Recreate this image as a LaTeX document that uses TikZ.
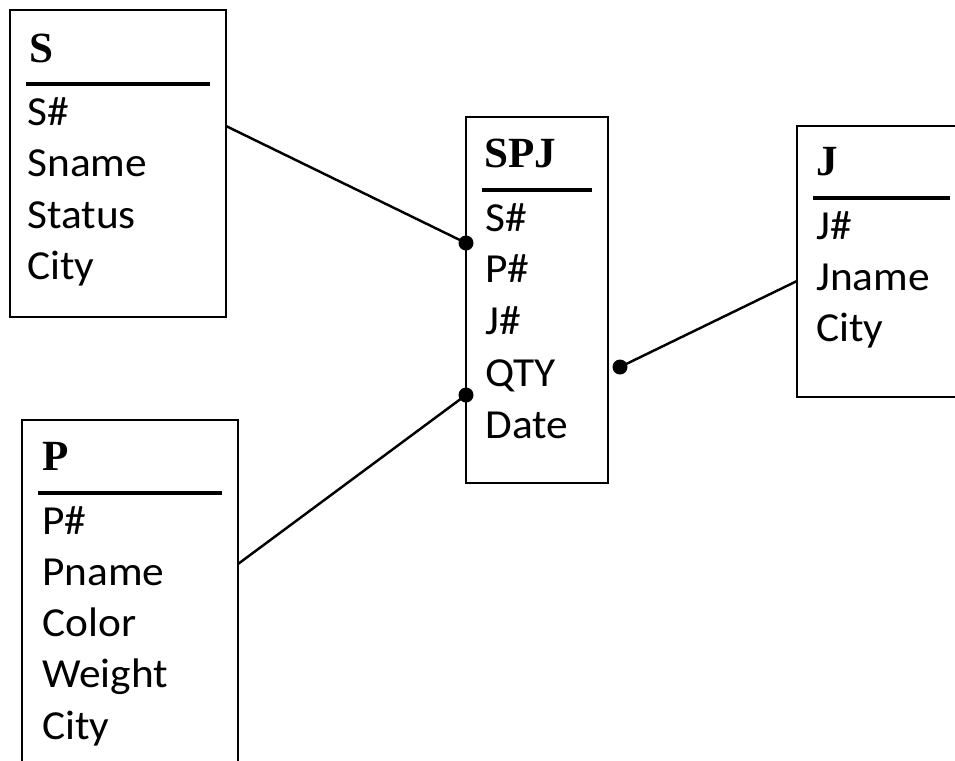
\documentclass[tikz,border=0pt]{standalone}
\usepackage{fontspec}
\setmainfont{Carlito}[FakeStretch=1.05]
\newfontfamily\titulofont{Liberation Serif}
\usepackage{tikz}
\usetikzlibrary{positioning}

\tikzset{
  tabla/.style={draw, line width=1.1pt, rectangle, inner sep=0pt, outer sep=0pt, anchor=north west},
  titulo/.style={anchor=base west, inner sep=0pt, font=\titulofont\bfseries\fontsize{24.5}{28}\selectfont},
  campo/.style={anchor=base west, inner sep=0pt, font=\fontsize{23.5}{26}\selectfont},
  regla/.style={line width=1.8pt},
  relacion/.style={line width=1.4pt},
  punto/.style={circle, fill=black, inner sep=0pt, minimum size=0.3cm}
}

\begin{document}
\begin{tikzpicture}
  \useasboundingbox (0,0) rectangle (19.1,-15.2);
  \clip (0,0) rectangle (19.1,-15.2);

  % Tablas
  \node[tabla, minimum width=4.32cm, minimum height=6.14cm] (s) at (0.2,-0.2) {};
  \node[tabla, minimum width=2.84cm, minimum height=7.32cm] (spj) at (9.32,-2.34) {};
  \node[tabla, minimum width=3.6cm, minimum height=5.42cm] (j) at (15.94,-2.52) {};
  \node[tabla, minimum width=4.32cm, minimum height=7.4cm] (p) at (0.44,-8.4) {};

  % Titulos
  \node[titulo] (s-tit) at (0.58,-1.24) {S};
  \node[titulo] (spj-tit) at (9.68,-3.34) {SPJ};
  \node[titulo] (j-tit) at (16.32,-3.5) {J};
  \node[titulo] (p-tit) at (0.84,-9.4) {P};

  \draw[regla] (0.52,-1.68) -- (4.2,-1.68);
  \draw[regla] (9.64,-3.8) -- (11.84,-3.8);
  \draw[regla] (16.26,-3.96) -- (19.0,-3.96);
  \draw[regla] (0.76,-9.86) -- (4.44,-9.86);

  % Atributos
  \foreach \c [count=\i from 0] in {S\#, Sname, Status, City}
    \node[campo] (s-\i) at (0.54,-2.5-1.03*\i) {\c};
  \foreach \c [count=\i from 0] in {S\#, P\#, J\#, QTY, Date}
    \node[campo] (spj-\i) at (9.7,-4.62-1.035*\i) {\c};
  \foreach \c [count=\i from 0] in {J\#, Jname, City}
    \node[campo] (j-\i) at (16.32,-4.78-1.02*\i) {\c};
  \foreach \c [count=\i from 0] in {P\#, Pname, Color, Weight, City}
    \node[campo] (p-\i) at (0.84,-10.68-1.025*\i) {\c};

  % Relaciones
  \node[punto] (d-s) at (9.32,-4.86) {};
  \node[punto] (d-p) at (9.32,-7.9) {};
  \node[punto] (d-j) at (12.4,-7.34) {};
  \coordinate (s-sal) at (4.52,-2.52);
  \coordinate (p-sal) at (4.76,-11.28);
  \coordinate (j-sal) at (15.94,-5.62);

  \draw[relacion] (s-sal) -- (d-s.center);
  \draw[relacion] (p-sal) -- (d-p.center);
  \draw[relacion] (j-sal) -- (d-j.center);
\end{tikzpicture}
\end{document}
